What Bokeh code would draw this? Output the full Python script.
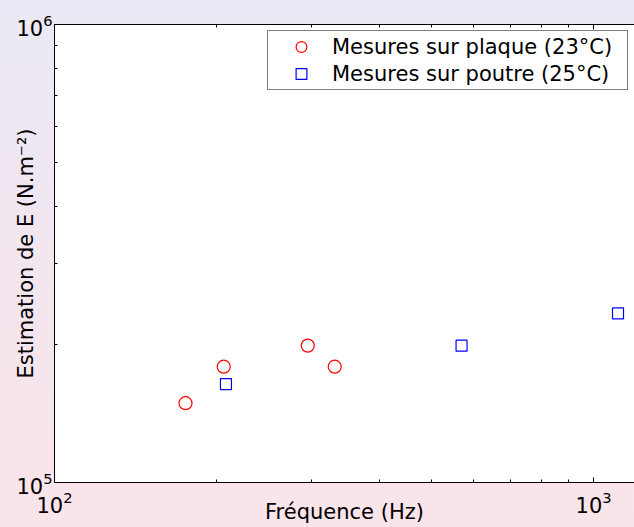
from bokeh.plotting import figure
from bokeh.models import (FixedTicker, LogAxis, LogTickFormatter, CustomJSTickFormatter,
                          Legend, LegendItem, Range1d)
from bokeh.embed import file_html
from bokeh.resources import INLINE

# ---- data ----
freq_plaque = [175, 206, 295, 331]
e_plaque = [1.49e5, 1.79e5, 1.99e5, 1.79e5]
freq_poutre = [208, 569, 1110]
e_poutre = [1.64e5, 1.99e5, 2.34e5]

x_major = [100, 1000]
x_minor = [200, 300, 400, 500, 600, 700, 800, 900]
y_major = [1e5, 1e6]
y_minor = [2e5, 3e5, 4e5, 5e5, 6e5, 7e5, 8e5, 9e5]

label_plaque = "Mesures sur plaque (23°C)"
label_poutre = "Mesures sur poutre (25°C)"
x_title = "Fréquence (Hz)"
y_title = "Estimation de E (N.m⁻²)"

FONT = "DejaVu Sans"
FS = "21px"

p = figure(width=634, height=527, x_axis_type="log", y_axis_type="log",
           x_range=Range1d(100, 1191), y_range=Range1d(1e5, 1e6),
           output_backend="svg", toolbar_location=None,
           min_border_left=54, min_border_right=0, min_border_top=24, min_border_bottom=45)
p.border_fill_color = None
p.background_fill_color = "white"
p.outline_line_color = None
p.grid.visible = False
p.styles = {"background": "linear-gradient(to bottom, #ebe9f5 0%, #f2e6f0 45%, #f9e4e9 100%)"}

for ax, maj, mnr in [(p.xaxis[0], x_major, x_minor), (p.yaxis[0], y_major, y_minor)]:
    ax.ticker = FixedTicker(ticks=maj, minor_ticks=mnr)
    ax.formatter = LogTickFormatter()
    ax.major_tick_in = 5
    ax.major_tick_out = 0
    ax.minor_tick_in = 3
    ax.minor_tick_out = 0
    ax.major_tick_line_color = "black"
    ax.minor_tick_line_color = "black"
    ax.axis_line_color = "black"
    ax.major_label_text_font = FONT
    ax.major_label_text_font_size = FS
    ax.major_label_text_color = "black"
    ax.axis_label_text_font = FONT
    ax.axis_label_text_font_size = FS
    ax.axis_label_text_font_style = "normal"
    ax.axis_label_text_color = "black"

p.xaxis[0].axis_label = x_title
p.xaxis[0].major_label_standoff = 8
p.xaxis[0].axis_label_standoff = -16
p.yaxis[0].axis_label = y_title
p.yaxis[0].major_label_standoff = 2
p.yaxis[0].axis_label_standoff = -25

top = LogAxis(ticker=FixedTicker(ticks=x_major, minor_ticks=x_minor),
              formatter=CustomJSTickFormatter(code="return ''"),
              major_tick_in=5, major_tick_out=0, minor_tick_in=3, minor_tick_out=0,
              axis_line_color="black", major_tick_line_color="black",
              minor_tick_line_color="black", major_label_standoff=0)
p.add_layout(top, "above")

r1 = p.scatter(freq_plaque, e_plaque, marker="circle", size=13, fill_color=None,
               line_color="#ff0000", line_width=1.2)
r2 = p.scatter(freq_poutre, e_poutre, marker="square", size=11, fill_color=None,
               line_color="#0000ff", line_width=1.2)

legend = Legend(items=[LegendItem(label=label_plaque, renderers=[r1]),
                       LegendItem(label=label_poutre, renderers=[r2])],
                location="top_right", margin=6, padding=2, spacing=0,
                glyph_width=62, glyph_height=27, label_standoff=0, label_width=293,
                border_line_color="black", border_line_width=1,
                background_fill_color="white", background_fill_alpha=1,
                label_text_font=FONT, label_text_font_size=FS, label_text_color="black")
p.add_layout(legend)

html = file_html(p, INLINE, title="Estimation de E")
open("out.html", "w").write(html)
